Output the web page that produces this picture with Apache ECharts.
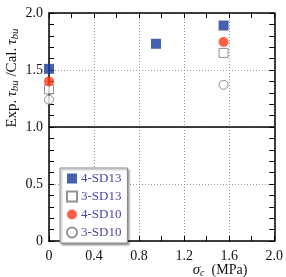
<!DOCTYPE html>
<html><head><meta charset="utf-8">
<script src="https://cdn.jsdelivr.net/npm/echarts@6/dist/echarts.min.js"></script>
<style>html,body{margin:0;padding:0;background:#fff}#c{width:286px;height:277px}</style>
</head><body><div id="c"></div>
<script>
const seriesNames = ['4-SD13', '3-SD13', '4-SD10', '3-SD10'];
const sd13_4 = [[0, 1.51], [0.95, 1.73], [1.55, 1.89]];
const sd13_3 = [[0, 1.33], [1.55, 1.65]];
const sd10_4 = [[0, 1.40], [1.55, 1.745]];
const sd10_3 = [[0, 1.24], [1.55, 1.37]];
const xTicks = [0, 0.4, 0.8, 1.2, 1.6, 2.0];
const yTicks = [0, 0.5, 1.0, 1.5, 2.0];
const refLine = 1.0;

const FONT = '"Liberation Serif", "Times New Roman", serif';
const chart = echarts.init(document.getElementById('c'));
const fmtX = v => { const r = xTicks.find(t => Math.abs(t - v) < 1e-9); return r === undefined ? '' : (r === 0 ? '0' : r.toFixed(1)); };
const fmtY = v => { const r = yTicks.find(t => Math.abs(t - v) < 1e-9); return r === undefined ? '' : (r === 0 ? '0' : r.toFixed(1)); };
const axisLineS = {show: true, onZero: false, lineStyle: {color: '#000', width: 1.5}};
const baseX = {
  type: 'value', min: 0, max: 2.0, interval: 0.4,
  axisLine: axisLineS,
  axisTick: {show: true, inside: true, length: 5, lineStyle: {color: '#000', width: 1}},
  minorTick: {show: true, splitNumber: 2, length: 5, lineStyle: {color: '#000', width: 1}}
};
const baseY = {
  type: 'value', min: 0, max: 2.0, interval: 0.5,
  axisLine: axisLineS,
  axisTick: {show: true, inside: true, length: 5, lineStyle: {color: '#000', width: 1}},
  minorTick: {show: true, splitNumber: 5, length: 5, lineStyle: {color: '#000', width: 1}}
};
const labelStyle = {color: '#111', fontFamily: FONT, fontSize: 14};
const openStyle = {color: '#fff', borderColor: '#777', borderWidth: 1};
chart.setOption({
  animation: false,
  backgroundColor: '#fff',
  textStyle: {fontFamily: FONT},
  grid: {left: 49, right: 8, top: 13, bottom: 36},
  xAxis: [
    Object.assign({}, baseX, {position: 'bottom',
      axisLabel: Object.assign({show: true, margin: 8, formatter: fmtX}, labelStyle),
      splitLine: {show: true, lineStyle: {color: '#999', type: [1, 2], width: 1}}}),
    Object.assign({}, baseX, {position: 'top', axisLabel: {show: false}, splitLine: {show: false}})
  ],
  yAxis: [
    Object.assign({}, baseY, {position: 'left',
      axisLabel: Object.assign({show: true, margin: 6, formatter: fmtY}, labelStyle),
      splitLine: {show: true, lineStyle: {color: '#999', type: [1, 2], width: 1}}}),
    Object.assign({}, baseY, {position: 'right', axisLabel: {show: false}, splitLine: {show: false}})
  ],
  legend: {
    orient: 'vertical', left: 60, top: 168,
    data: seriesNames,
    itemWidth: 10, itemHeight: 10, itemGap: 5,
    padding: [4, 6, 4, 6],
    backgroundColor: '#fff', borderColor: '#888', borderWidth: 1,
    shadowColor: 'rgba(0,0,0,0.35)', shadowBlur: 2, shadowOffsetX: 1.5, shadowOffsetY: 1.5,
    textStyle: {color: '#4646a0', fontFamily: FONT, fontSize: 13, padding: [0, 0, 0, -1]}
  },
  series: [
    {name: seriesNames[0], type: 'scatter', data: sd13_4, symbol: 'rect', symbolSize: 10, z: 5,
      itemStyle: {color: '#173a9c'},
      markLine: {silent: true, symbol: 'none', label: {show: false},
        lineStyle: {color: '#000', width: 1.5, type: 'solid'}, data: [{yAxis: refLine}]}},
    {name: seriesNames[1], type: 'scatter', data: sd13_3, symbol: 'rect', symbolSize: 9, z: 4, itemStyle: openStyle},
    {name: seriesNames[2], type: 'scatter', data: sd10_4, symbol: 'circle', symbolSize: 10, z: 5, itemStyle: {color: '#ff3818'}},
    {name: seriesNames[3], type: 'scatter', data: sd10_3, symbol: 'circle', symbolSize: 9, z: 4, itemStyle: openStyle}
  ],
  graphic: [
    {type: 'text', x: 12, y: 78, rotation: Math.PI / 2,
      style: {text: 'Exp.{i|τ}{s|bu} /Cal.{i|τ}{s|bu}', fontFamily: FONT, fontSize: 15, fill: '#111',
        align: 'center', verticalAlign: 'middle',
        rich: {i: {fontStyle: 'italic', fontFamily: FONT, fontSize: 15, padding: [0, 0, 0, 3]},
               s: {fontStyle: 'italic', fontFamily: FONT, fontSize: 11, verticalAlign: 'bottom', padding: [6, 0, 0, 0]}}}},
    {type: 'text', x: 220, y: 270,
      style: {text: '{i|σ}{s|c}  {n|(MPa)}', fontFamily: FONT, fontSize: 14, fill: '#111',
        align: 'center', verticalAlign: 'middle',
        rich: {i: {fontStyle: 'italic', fontFamily: FONT, fontSize: 15},
               n: {fontFamily: FONT, fontSize: 14},
               s: {fontStyle: 'italic', fontFamily: FONT, fontSize: 10, verticalAlign: 'bottom', padding: [6, 0, 0, 0]}}}}
  ]
});
</script></body></html>
